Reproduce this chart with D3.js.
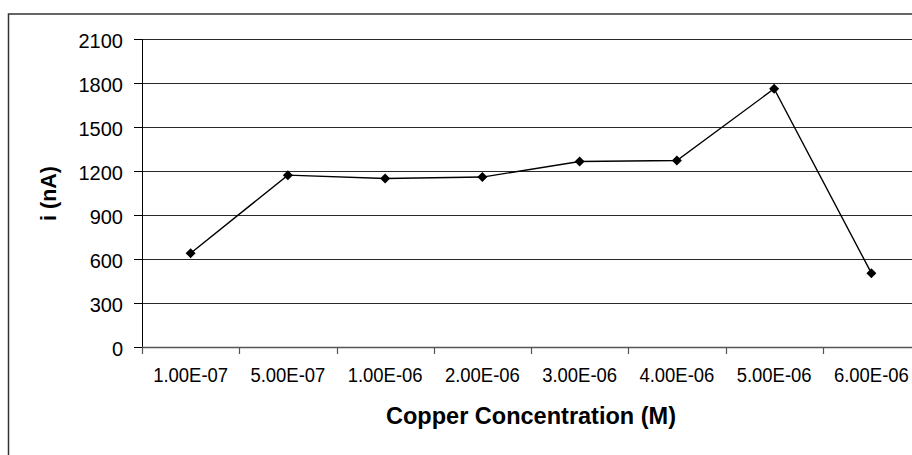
<!DOCTYPE html>
<html>
<head>
<meta charset="utf-8">
<script src="https://cdn.jsdelivr.net/npm/d3@7"></script>
<style>
  html, body { margin: 0; padding: 0; background: #fff; }
  svg { display: block; }
  text { font-family: "Liberation Sans", Arial, sans-serif; fill: #000; }
</style>
</head>
<body>
<svg id="chart" width="912" height="455"></svg>
<script>
const categories = ["1.00E-07", "5.00E-07", "1.00E-06", "2.00E-06", "3.00E-06", "4.00E-06", "5.00E-06", "6.00E-06"];
const currentValues = [643, 1175, 1152, 1162, 1268, 1275, 1764, 507];
const yTicks = [0, 300, 600, 900, 1200, 1500, 1800, 2100];
const xTitle = "Copper Concentration (M)";
const yTitle = "i (nA)";

const svg = d3.select("#chart");
const W = 912, H = 455;
const plot = { left: 142, right: 920, top: 39.5, bottom: 347.5 };

svg.append("rect").attr("width", W).attr("height", H).attr("fill", "#fff");
// outer frame (extends beyond right/bottom of view)
svg.append("rect")
  .attr("x", 8.5).attr("y", 14)
  .attr("width", 920).attr("height", 460)
  .attr("fill", "none").attr("stroke", "#333").attr("stroke-width", 1.5);

const x = d3.scaleBand().domain(categories).range([plot.left, plot.right]).padding(0);
const y = d3.scaleLinear().domain([0, 2100]).range([plot.bottom, plot.top]);

// gridlines
svg.append("g").selectAll("line").data(yTicks.filter(d => d > 0)).join("line")
  .attr("x1", plot.left).attr("x2", plot.right)
  .attr("y1", d => y(d)).attr("y2", d => y(d))
  .attr("stroke", "#2a2a2a").attr("stroke-width", 1);

// y axis
const yAxis = svg.append("g").attr("transform", `translate(${plot.left},-0.5)`)
  .call(d3.axisLeft(y).tickValues(yTicks).tickSize(8).tickPadding(11).tickFormat(d3.format("d")));
yAxis.select(".domain").attr("stroke", "#000").attr("stroke-width", 1);
yAxis.selectAll(".tick line").attr("stroke", "#000");
yAxis.selectAll("text").attr("font-size", "20px").attr("dy", "0.42em")
  .style("font-family", "'Liberation Sans', Arial, sans-serif");

// x axis
const xTickPositions = categories.map(c => Math.round(x(c)) + 0.5).concat([plot.right]);
const xAxisG = svg.append("g").attr("transform", `translate(0,${plot.bottom})`);
xAxisG.append("line").attr("x1", plot.left).attr("x2", plot.right).attr("y1", 0).attr("y2", 0)
  .attr("stroke", "#555").attr("stroke-width", 1.3);
xAxisG.selectAll("line.tk").data(xTickPositions).join("line").attr("class", "tk")
  .attr("x1", d => d).attr("x2", d => d).attr("y1", 0).attr("y2", 6.5)
  .attr("stroke", "#555").attr("stroke-width", 1.2);
xAxisG.selectAll("text").data(categories).join("text")
  .attr("x", d => x(d) + x.bandwidth() / 2)
  .attr("y", 34)
  .attr("text-anchor", "middle")
  .attr("font-size", "19.5px")
  .attr("textLength", 75).attr("lengthAdjust", "spacingAndGlyphs")
  .text(d => d);

// line
const line = d3.line().x((d, i) => x(categories[i]) + x.bandwidth() / 2).y(d => y(d));
svg.append("path").datum(currentValues)
  .attr("d", line).attr("fill", "none").attr("stroke", "#000").attr("stroke-width", 1.4);

// markers
svg.append("g").selectAll("path").data(currentValues).join("path")
  .attr("transform", (d, i) => `translate(${x(categories[i]) + x.bandwidth() / 2},${y(d)})`)
  .attr("d", "M0,-5 L5,0 L0,5 L-5,0 Z")
  .attr("fill", "#000");

// axis titles
svg.append("text")
  .attr("x", (plot.left + plot.right) / 2).attr("y", 424)
  .attr("text-anchor", "middle").attr("font-weight", "bold").attr("font-size", "23px")
  .attr("textLength", 290).attr("lengthAdjust", "spacingAndGlyphs")
  .text(xTitle);

svg.append("text")
  .attr("transform", `translate(55.5,${(plot.top + plot.bottom) / 2}) rotate(-90)`)
  .attr("text-anchor", "middle").attr("font-weight", "bold").attr("font-size", "21.5px")
  .text(yTitle);
</script>
</body>
</html>
